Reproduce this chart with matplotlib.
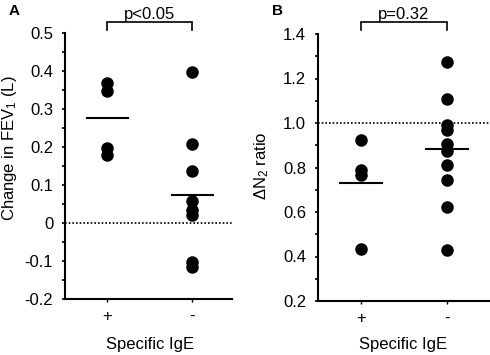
import matplotlib
matplotlib.use("Agg")
import matplotlib.pyplot as plt
from matplotlib.ticker import MultipleLocator

plt.rcParams['font.family'] = ['Liberation Sans', 'DejaVu Sans']
plt.rcParams['mathtext.fontset'] = 'custom'
plt.rcParams['mathtext.rm'] = 'Liberation Sans'
plt.rcParams['mathtext.it'] = 'Liberation Sans'

groups = ["+", "-"]
fev_pos = [0.368, 0.347, 0.198, 0.178]
fev_neg = [0.398, 0.208, 0.138, 0.057, 0.034, 0.020, -0.102, -0.116]
fev_means = [0.276, 0.074]
n2_pos = [0.923, 0.790, 0.768, 0.434]
n2_neg = [1.276, 1.110, 0.993, 0.968, 0.907, 0.875, 0.811, 0.745, 0.622, 0.427]
n2_means = [0.731, 0.882]
fev_ticks = ['-0.2', '-0.1', '0', '0.1', '0.2', '0.3', '0.4', '0.5']
n2_ticks = ['0.2', '0.4', '0.6', '0.8', '1.0', '1.2', '1.4']

W, H = 490, 355
FS = 12
fig = plt.figure(figsize=(W/100, H/100), dpi=100)

def px_axes(x0, y0, x1, y1):
    return fig.add_axes([x0/W, 1 - y1/H, (x1-x0)/W, (y1-y0)/H])

def style(ax):
    for s in ['top', 'right']:
        ax.spines[s].set_visible(False)
    for s in ['left', 'bottom']:
        ax.spines[s].set_linewidth(1.5)
    ax.tick_params(axis='y', which='major', length=2.5, width=1.2, labelsize=FS, pad=6)
    ax.tick_params(axis='y', which='minor', length=2.5, width=1.2)
    ax.tick_params(axis='x', which='major', length=2, width=1, labelsize=FS, pad=5)

def bracket(ax, y_top, y_bot, text):
    ax.plot([1, 1, 2, 2], [y_bot, y_top, y_top, y_bot], color='black', lw=1.2,
            clip_on=False, solid_joinstyle='miter')
    ax.text(1.5, y_top, text, ha='center', va='bottom', fontsize=FS)

# Panel A
axA = px_axes(65, 33, 232, 299)
style(axA)
axA.plot([1]*len(fev_pos), fev_pos, 'o', color='black', ms=8, clip_on=False)
axA.plot([2]*len(fev_neg), fev_neg, 'o', color='black', ms=8, clip_on=False)
for i, m in enumerate(fev_means):
    axA.plot([i+1-0.24, i+1+0.24], [m, m], color='black', lw=1.5)
axA.axhline(0, color='black', ls=(0, (1, 1.2)), lw=1.2)
axA.set_xlim(0.5, 2.47)
axA.set_ylim(-0.2, 0.5)
axA.set_yticks([float(t) for t in fev_ticks])
axA.set_yticklabels(fev_ticks)
axA.yaxis.set_minor_locator(MultipleLocator(0.05))
axA.set_xticks([1, 2])
axA.set_xticklabels(groups)
bracket(axA, 0.5 + 11/381, 0.5 + 3/381, 'p<0.05')
fig.text(150/W, 1 - 345/H, 'Specific IgE', fontsize=FS, ha='center', va='center')
fig.text(10/W, 1 - 148/H, 'Change in FEV$_1$ (L)', fontsize=FS, rotation=90,
         ha='center', va='center')
fig.text(14/W, 1 - 11/H, 'A', fontsize=11, fontweight='bold', ha='center', va='center')

# Panel B
axB = px_axes(318, 34, 490, 301)
style(axB)
axB.plot([1]*len(n2_pos), n2_pos, 'o', color='black', ms=8, clip_on=False)
axB.plot([2]*len(n2_neg), n2_neg, 'o', color='black', ms=8, clip_on=False)
for i, m in enumerate(n2_means):
    axB.plot([i+1-0.24, i+1+0.24], [m, m], color='black', lw=1.5)
axB.axhline(1.0, color='black', ls=(0, (1, 1.2)), lw=1.2)
axB.set_xlim(0.5, 2.5)
axB.set_ylim(0.2, 1.4)
axB.set_yticks([float(t) for t in n2_ticks])
axB.set_yticklabels(n2_ticks)
axB.yaxis.set_minor_locator(MultipleLocator(0.1))
axB.set_xticks([1, 2])
axB.set_xticklabels(groups)
bracket(axB, 1.4 + 12/223, 1.4 + 4/223, 'p=0.32')
fig.text(403/W, 1 - 345/H, 'Specific IgE', fontsize=FS, ha='center', va='center')
fig.text(262/W, 1 - 166/H, 'ΔN$_2$ ratio', fontsize=FS, rotation=90,
         ha='center', va='center')
fig.text(277/W, 1 - 11/H, 'B', fontsize=11, fontweight='bold', ha='center', va='center')

fig.savefig('out.png', dpi=100)
